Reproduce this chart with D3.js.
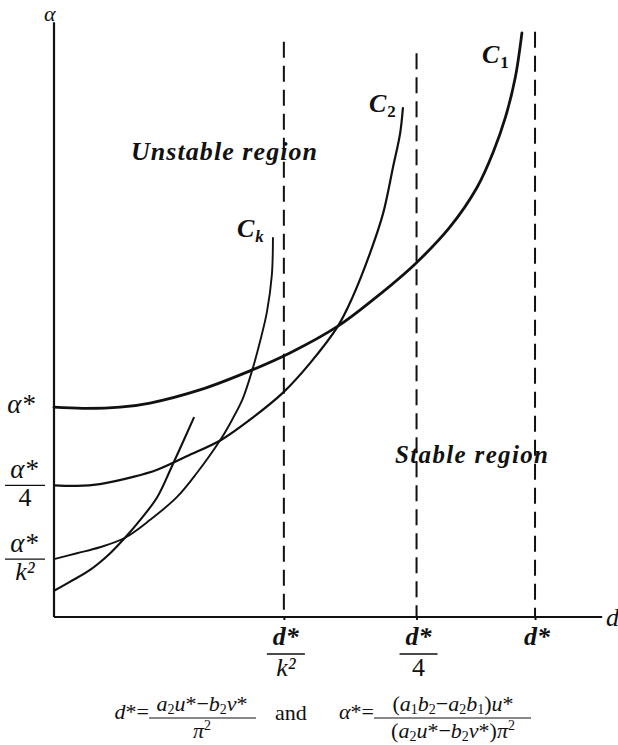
<!DOCTYPE html>
<html>
<head>
<meta charset="utf-8">
<script src="https://cdn.jsdelivr.net/npm/d3@7/dist/d3.min.js"></script>
<style>
  html, body { margin: 0; padding: 0; background: #fff; }
  svg { display: block; }
  text { font-family: "Liberation Serif", "Times New Roman", serif; fill: #111; }
</style>
</head>
<body>
<script>
// Stability curves in the (d, alpha) plane, arbitrary units.
const curveC1 = [[0.00,3.52],[0.53,3.50],[1.21,3.52],[1.76,3.59],[2.67,3.81],[3.59,4.13],[4.32,4.43],
  [5.20,4.88],[5.88,5.35],[6.61,5.92],[7.25,6.54],[7.75,7.21],[8.04,7.79],[8.27,8.39],[8.45,9.06],[8.57,9.80]];
const curveC2 = [[0.00,2.21],[0.42,2.20],[0.84,2.23],[1.45,2.35],[1.89,2.47],[2.44,2.70],[3.06,2.97],
  [3.59,3.31],[4.19,3.76],[4.69,4.26],[5.20,4.88],[5.46,5.35],[5.79,6.11],[6.03,6.78],[6.21,7.55],[6.34,8.12],[6.39,8.54]];
const curveCk = [[0.00,0.97],[0.42,1.07],[0.84,1.17],[1.30,1.33],[1.76,1.63],[2.25,2.01],[2.62,2.42],
  [3.06,2.99],[3.28,3.34],[3.46,3.67],[3.63,4.14],[3.77,4.61],[3.90,5.12],[3.99,5.74],[4.01,6.36]];
const curveCk1 = [[0.00,0.44],[0.29,0.59],[0.66,0.79],[1.03,1.07],[1.30,1.33],[1.58,1.63],[1.89,2.01],
  [2.16,2.53],[2.56,3.34]];

const curveWidths = [2.8, 2.2, 1.9, 2.1];

// Critical diffusion values (vertical asymptotes) and their top ends
const dCritical = [4.21, 6.64, 8.81];
const dCriticalTop = [9.65, 9.46, 9.82];
const dLabelDen = ["k²", "4", ""];

// Starting alpha values on the vertical axis
const alphaStart = [3.52, 2.21, 0.97];
const alphaLabelDen = ["", "4", "k²"];

const W = 618, H = 745;
const svg = d3.select("body").append("svg").attr("width", W).attr("height", H);

const x = d3.scaleLinear().domain([0, 10]).range([54, 600]);
const y = d3.scaleLinear().domain([0, 10]).range([617, 21]);

// Axes
const xAxis = d3.axisBottom(x).tickValues(dCritical).tickFormat("").tickSizeInner(3).tickSizeOuter(0);
const gx = svg.append("g").attr("transform", `translate(0,${y(0)})`).call(xAxis);
gx.select(".domain").attr("d", `M${x(0)},0H${x(10.04)}`).attr("stroke", "#111").attr("stroke-width", 2.2);
gx.selectAll(".tick line").attr("stroke", "#111").attr("stroke-width", 2);

const yAxis = d3.axisLeft(y).tickValues([]).tickSizeOuter(0);
const gy = svg.append("g").attr("transform", `translate(${x(0)},0)`).call(yAxis);
gy.select(".domain").attr("d", `M0,${y(0)}V${y(9.98)}`).attr("stroke", "#111").attr("stroke-width", 2.2);

// Dashed asymptotes
svg.append("g").selectAll("line").data(dCritical).join("line")
  .attr("x1", d => x(d)).attr("x2", d => x(d))
  .attr("y1", (d, i) => y(dCriticalTop[i])).attr("y2", y(0))
  .attr("stroke", "#111").attr("stroke-width", 2).attr("stroke-dasharray", "16,8");

// Curves
const line = d3.line().x(d => x(d[0])).y(d => y(d[1])).curve(d3.curveCatmullRom.alpha(0.5));
svg.append("g").selectAll("path").data([curveC1, curveC2, curveCk, curveCk1]).join("path")
  .attr("d", line).attr("fill", "none").attr("stroke", "#111")
  .attr("stroke-width", (d, i) => curveWidths[i]).attr("stroke-linecap", "round");

// Axis names
svg.append("text").attr("x", 44).attr("y", 21).attr("font-size", 22).attr("font-style", "italic").text("α");
svg.append("text").attr("x", 606).attr("y", 626).attr("font-size", 26).attr("font-style", "italic").text("d");

// d-axis labels
const gdl = svg.append("g");
dCritical.forEach((d, i) => {
  const cx = x(d) + 2;
  gdl.append("text").attr("x", cx).attr("y", 645).attr("text-anchor", "middle")
    .attr("font-size", 26).attr("font-style", "italic").attr("font-weight", "bold").text("d*");
  if (dLabelDen[i]) {
    gdl.append("line").attr("x1", cx - 19).attr("x2", cx + 19).attr("y1", 654).attr("y2", 654)
      .attr("stroke", "#111").attr("stroke-width", 1.3);
    gdl.append("text").attr("x", cx).attr("y", 676).attr("text-anchor", "middle")
      .attr("font-size", 26).attr("font-style", dLabelDen[i] === "4" ? "normal" : "italic")
      .text(dLabelDen[i]);
  }
});

// alpha-axis labels
const gal = svg.append("g");
alphaStart.forEach((a, i) => {
  const cy = y(a);
  const cx = 25;
  if (!alphaLabelDen[i]) {
    gal.append("text").attr("x", cx - 4).attr("y", cy + 6).attr("text-anchor", "middle")
      .attr("font-size", 27).attr("font-style", "italic").text("α*");
  } else {
    gal.append("text").attr("x", cx - 1).attr("y", cy - 7).attr("text-anchor", "middle")
      .attr("font-size", 27).attr("font-style", "italic").text("α*");
    gal.append("line").attr("x1", cx - 20).attr("x2", cx + 20).attr("y1", cy).attr("y2", cy)
      .attr("stroke", "#111").attr("stroke-width", 1.3);
    gal.append("text").attr("x", cx).attr("y", cy + 21).attr("text-anchor", "middle")
      .attr("font-size", 26).attr("font-style", alphaLabelDen[i] === "4" ? "normal" : "italic")
      .text(alphaLabelDen[i]);
  }
});

// Curve labels
function curveLabel(px, py, sub) {
  const t = svg.append("text").attr("x", px).attr("y", py).attr("font-size", 26)
    .attr("font-style", "italic").attr("font-weight", "bold");
  t.append("tspan").text("C");
  t.append("tspan").attr("font-size", 17).attr("dy", 5).attr("dx", 1)
    .attr("font-style", sub === "k" ? "italic" : "normal").text(sub);
}
curveLabel(x(curveC1[curveC1.length - 1][0]) - 40, y(curveC1[curveC1.length - 1][1]) + 30, "1");
curveLabel(x(curveC2[curveC2.length - 1][0]) - 34, y(curveC2[curveC2.length - 1][1]) + 4, "2");
curveLabel(x(curveCk[curveCk.length - 1][0]) - 36, y(curveCk[curveCk.length - 1][1]) - 1, "k");

// Region labels
svg.append("text").attr("x", 131).attr("y", 160).attr("font-size", 26).attr("font-style", "italic")
  .attr("font-weight", "bold").attr("textLength", 186).attr("lengthAdjust", "spacing").text("Unstable region");
svg.append("text").attr("x", 395).attr("y", 463).attr("font-size", 25).attr("font-style", "italic")
  .attr("font-weight", "bold").attr("textLength", 153).attr("lengthAdjust", "spacing").text("Stable region");

// Definitions of d* and alpha*
function formula(parent, px, py, parts, anchor) {
  const t = parent.append("text").attr("x", px).attr("y", py).attr("font-size", 22)
    .attr("text-anchor", anchor || "start");
  let shift = 0;
  parts.forEach(([s, kind]) => {
    const sp = t.append("tspan").text(s);
    let target = 0;
    if (kind === "sub") { sp.attr("font-size", 14); target = 3; }
    else if (kind === "sup") { sp.attr("font-size", 14); target = -8; }
    else if (kind === "i") sp.attr("font-style", "italic");
    if (target !== shift) { sp.attr("dy", target - shift); shift = target; }
  });
  return t;
}
const gf = svg.append("g");
formula(gf, 149, 719, [["d", "i"], ["*", "r"], ["=", "r"]], "end");
formula(gf, 202, 711, [["a", "i"], ["2", "sub"], ["u", "i"], ["*", "r"], ["−", "r"], ["b", "i"], ["2", "sub"], ["v", "i"], ["*", "r"]], "middle");
gf.append("line").attr("x1", 149).attr("x2", 256).attr("y1", 718).attr("y2", 718).attr("stroke", "#111").attr("stroke-width", 1);
formula(gf, 202, 738, [["π", "i"], ["2", "sup"]], "middle");
formula(gf, 275, 720, [["and", "r"]]);
formula(gf, 374, 719, [["α", "i"], ["*", "r"], ["=", "r"]], "end");
formula(gf, 453, 711, [["(", "r"], ["a", "i"], ["1", "sub"], ["b", "i"], ["2", "sub"], ["−", "r"], ["a", "i"], ["2", "sub"], ["b", "i"], ["1", "sub"], [")", "r"], ["u", "i"], ["*", "r"]], "middle");
gf.append("line").attr("x1", 374).attr("x2", 531).attr("y1", 718).attr("y2", 718).attr("stroke", "#111").attr("stroke-width", 1);
formula(gf, 453, 738, [["(", "r"], ["a", "i"], ["2", "sub"], ["u", "i"], ["*", "r"], ["−", "r"], ["b", "i"], ["2", "sub"], ["v", "i"], ["*", "r"], [")", "r"], ["π", "i"], ["2", "sup"]], "middle");
</script>
</body>
</html>
